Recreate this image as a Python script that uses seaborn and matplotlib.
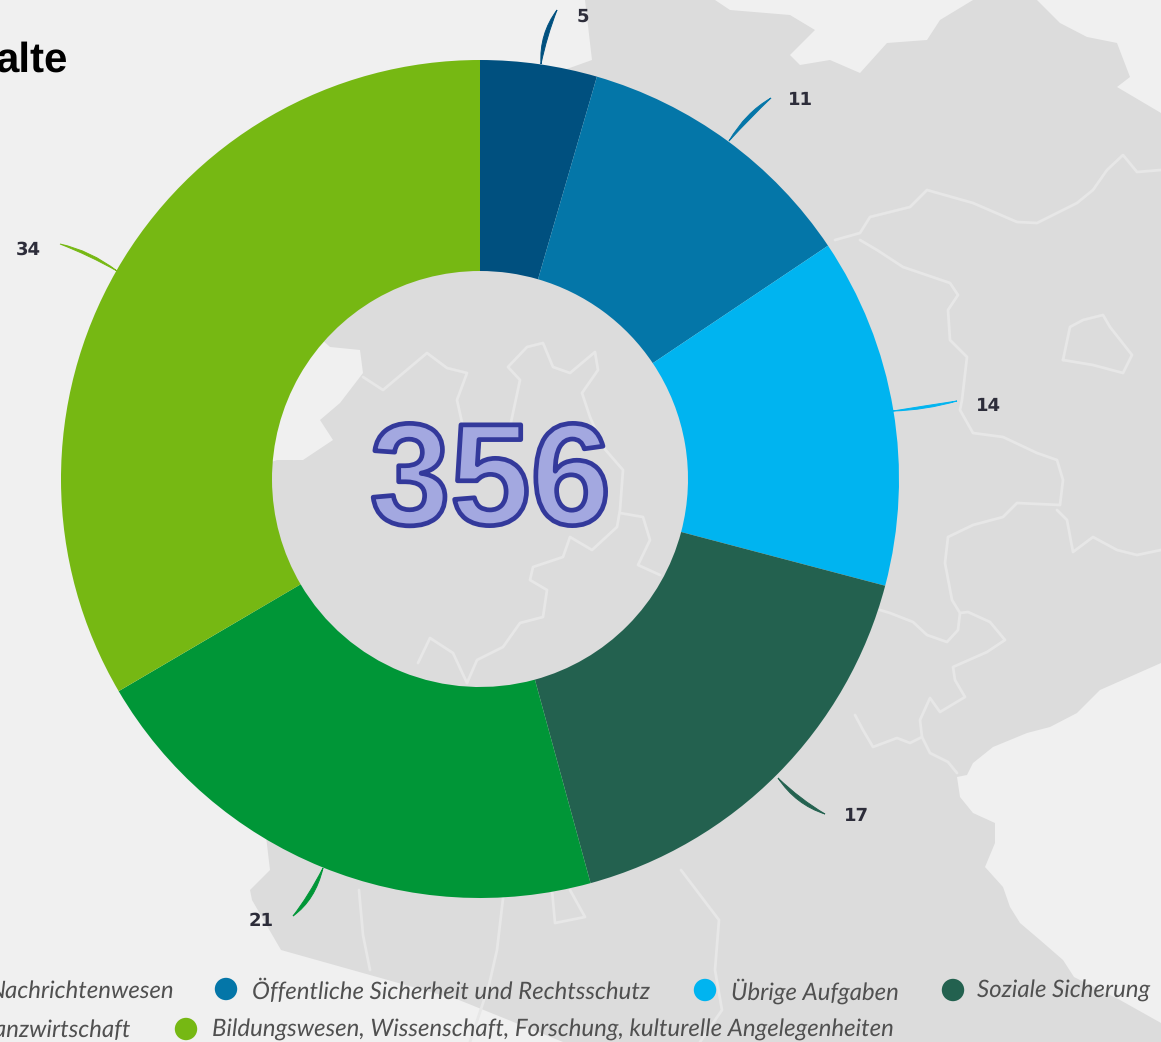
import matplotlib
matplotlib.use("Agg")
import matplotlib.pyplot as plt
import matplotlib.patheffects as pe
from matplotlib.patches import PathPatch, Polygon
from matplotlib.path import Path
import seaborn as sns

# shares measured from the ring, and the numbers printed next to it
categories = ["Nachrichtenwesen", "Öffentliche Sicherheit und Rechtsschutz", "Übrige Aufgaben",
              "Soziale Sicherung", "Finanzwirtschaft",
              "Bildungswesen, Wissenschaft, Forschung, kulturelle Angelegenheiten"]
shares = [4.5, 11.1, 13.5, 16.65, 20.8, 33.45]
printed = ["5", "11", "14", "17", "21", "34"]
total = "356"
colors = ["#00507f", "#0476a8", "#00b4f0", "#23614f", "#009637", "#76b813"]

W, H = 1161, 1042
LAND = "#dcdcdc"
SEA = "#f0f0f0"
BORDER = "#e7e7e7"

sns.set_theme(style="white")
plt.rcParams["font.family"] = ["Liberation Sans", "DejaVu Sans"]
plt.rcParams["text.hinting"] = "no_hinting"
plt.rcParams["text.hinting_factor"] = 1

fig = plt.figure(figsize=(W / 100, H / 100), dpi=100, facecolor=LAND)
ax = fig.add_axes([0, 0, 1, 1])


def flip(pts):
    # picture pixels have y going down
    return [(x, H - y) for x, y in pts]


# map behind the ring
sea_parts = [
    [(0, 0), (585, 0), (592, 60), (480, 100), (300, 250), (300, 320), (330, 347), (360, 350),
     (363, 373), (340, 403), (320, 420), (333, 440), (303, 460), (277, 460), (250, 470),
     (250, 700), (270, 870), (250, 890), (252, 900), (281, 950), (370, 975), (459, 1000),
     (563, 1042), (0, 1042)],
    [(1037, 0), (1060, 23), (1087, 37), (1117, 43), (1130, 77), (1117, 87), (1161, 113), (1161, 0)],
    [(715, 0), (730, 10), (790, 15), (815, 30), (790, 55), (800, 65), (830, 60), (860, 73),
     (887, 43), (927, 40), (940, 20), (973, 0)],
    [(1161, 663), (1100, 690), (1077, 713), (1050, 727), (1027, 733), (993, 747), (973, 763),
     (967, 775), (957, 777), (960, 797), (973, 813), (995, 823), (995, 843), (985, 867),
     (1003, 887), (1010, 907), (1020, 923), (1040, 940), (1063, 960), (1074, 977), (1120, 1000),
     (1161, 1023)],
]
for part in sea_parts:
    ax.add_patch(Polygon(flip(part), closed=True, fc=SEA, ec="none", zorder=1))

border_lines = [
    [(835, 240), (860, 233), (870, 217), (910, 207), (927, 190), (973, 203), (1017, 222), (1037, 223),
     (1077, 203), (1093, 190), (1107, 170), (1123, 155), (1137, 172), (1161, 170)],
    [(860, 240), (877, 250), (903, 267), (950, 283), (958, 295), (948, 310), (950, 340), (967, 357),
     (962, 400), (960, 410), (973, 433), (1003, 437), (1037, 453), (1057, 460), (1063, 480), (1060, 505),
     (1017, 503), (1003, 517), (973, 525), (948, 537), (945, 563), (952, 600), (960, 613), (968, 612),
     (990, 622), (1005, 640), (987, 652), (953, 667), (955, 680), (965, 697), (940, 712), (930, 698),
     (920, 720), (922, 737), (930, 753), (948, 762), (957, 773)],
    [(1057, 510), (1067, 520), (1073, 552), (1093, 537), (1117, 550), (1137, 555), (1161, 550)],
    [(960, 613), (958, 630), (947, 642), (927, 635), (913, 622), (890, 613), (880, 610)],
    [(922, 737), (910, 743), (897, 738), (873, 747), (863, 730), (855, 715)],
    [(1063, 360), (1070, 327), (1083, 320), (1103, 315), (1110, 327), (1132, 355), (1123, 373),
     (1093, 365), (1063, 360)],
    [(363, 377), (383, 390), (427, 353), (447, 368), (467, 373), (457, 400), (463, 427), (480, 450)],
    [(510, 427), (520, 380), (508, 367), (527, 347), (543, 343), (553, 367), (570, 373), (595, 352),
     (598, 370), (582, 393), (590, 417), (603, 447), (623, 470), (620, 510), (617, 527), (592, 550),
     (570, 537), (563, 557), (533, 567), (530, 580), (547, 590), (543, 617), (520, 623), (503, 647),
     (477, 660), (467, 683)],
    [(620, 513), (643, 517), (650, 540), (638, 565), (660, 575)],
    [(418, 663), (430, 638), (453, 653), (467, 683)],
    [(359, 890), (363, 935), (370, 970)],
    [(504, 890), (497, 950), (489, 985), (470, 1042)],
    [(552, 890), (555, 923), (585, 917), (570, 890)],
    [(681, 870), (719, 920), (715, 970), (722, 1010), (700, 1042)],
]
for line in border_lines:
    xs, ys = zip(*flip(line))
    ax.plot(xs, ys, color=BORDER, lw=2, zorder=1.5)

palette = sns.color_palette(colors)
ax.pie(shares, colors=palette, startangle=90, counterclock=False, center=(480, H - 479),
       radius=419, frame=True, wedgeprops={"width": 211, "linewidth": 0, "zorder": 3})
ax.set_xlim(0, W)
ax.set_ylim(0, H)
ax.set_aspect("equal")
ax.axis("off")

# thin tapered leaders, ring end -> bend -> far end
leaders = [
    [(541, 64), (543, 35), (557, 10)],
    [(729, 141), (748, 115), (771, 98)],
    [(893, 411), (925, 408), (957, 401)],
    [(778, 778), (798, 802), (825, 814)],
    [(323, 868), (312, 898), (293, 916)],
    [(117, 271), (90, 253), (60, 244)],
]
leader_widths = [4, 3.5, 2.2, 3.5, 4, 2.4]
for (p0, p1, p2), c, w in zip(leaders, colors, leader_widths):
    # two curves with a small offset make the lens shape
    dx, dy = p2[0] - p0[0], p2[1] - p0[1]
    n = (dx * dx + dy * dy) ** 0.5
    ox, oy = -dy / n * w, dx / n * w
    a = (p1[0] + ox, p1[1] + oy)
    b = (p1[0] - ox, p1[1] - oy)
    verts = flip([p0, a, p2, b, p0])
    codes = [Path.MOVETO, Path.CURVE3, Path.CURVE3, Path.CURVE3, Path.CURVE3]
    ax.add_patch(PathPatch(Path(verts, codes), fc=c, ec=c, lw=0.7, zorder=2.5))

label_pos = [(583, 17), (801, 100), (989, 406), (857, 816), (261, 921), (28, 250)]
for txt, (x, y) in zip(printed, label_pos):
    ax.text(x, H - y, txt, fontsize=13, fontweight="bold", color="#2d2d3a", ha="center", va="center",
            family=["DejaVu Sans"], zorder=5)

ax.text(68, H - 72, "alte", fontsize=30, fontweight="bold", color="black", ha="right", va="baseline", zorder=5)

ax.text(490, H - 487, total, fontsize=104, fontweight="bold", color="#a3a8e0", ha="center", va="center",
        zorder=6, path_effects=[pe.Stroke(linewidth=3.4, foreground="#33399b")])

# legend, cut off by the picture edge on the left
dots = [(226, 989), (705, 990), (953, 990), (186, 1029)]
dot_colors = [colors[1], colors[2], colors[3], colors[5]]
ax.scatter(*zip(*flip(dots)), s=260, c=dot_colors, linewidths=0, zorder=5)

legend_font = dict(fontsize=17.5, style="italic", color="#505050", va="center", family=["Lato"], zorder=5)
ax.text(174, H - 991, categories[0], ha="right", **legend_font)
ax.text(252, H - 991, categories[1], ha="left", **legend_font)
ax.text(731, H - 991, categories[2], ha="left", **legend_font)
ax.text(977, H - 991, categories[3], ha="left", **legend_font)
ax.text(131, H - 1030, categories[4], ha="right", **legend_font)
ax.text(212, H - 1030, categories[5], ha="left", **legend_font)

fig.savefig("out.png", dpi=100)
